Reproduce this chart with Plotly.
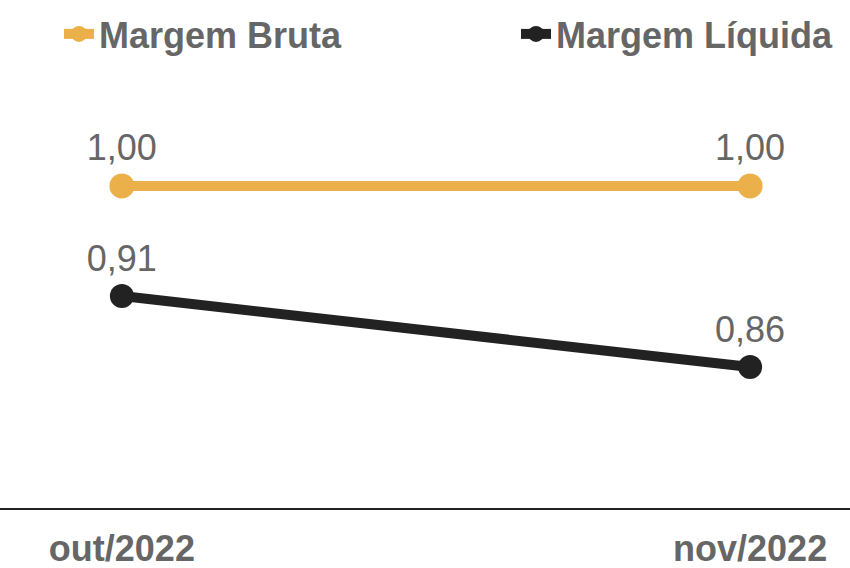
import plotly.graph_objects as go

categories = ["out/2022", "nov/2022"]
margem_bruta = [1.00, 1.00]
margem_liquida = [0.913, 0.857]

ORANGE = "#EBB04A"
BLACK = "#222222"
GRAY = "#666666"
FONT = "Liberation Sans, Arial, sans-serif"

fig = go.Figure()
fig.add_trace(go.Scatter(
    x=categories, y=margem_bruta, name="Margem Bruta",
    mode="lines+markers+text",
    line=dict(color=ORANGE, width=10),
    marker=dict(color=ORANGE, size=25),
    texttemplate="%{y:.2f}", textposition="top center",
    textfont=dict(size=36, color=GRAY, family=FONT),
    cliponaxis=False, legend="legend",
))
fig.add_trace(go.Scatter(
    x=categories, y=margem_liquida, name="Margem Líquida",
    mode="lines+markers+text",
    line=dict(color=BLACK, width=10),
    marker=dict(color=BLACK, size=24),
    texttemplate="%{y:.2f}", textposition="top center",
    textfont=dict(size=36, color=GRAY, family=FONT),
    cliponaxis=False, legend="legend2",
))

legend_common = dict(
    orientation="h", xanchor="left",
    yref="container", y=1 - 4/568, yanchor="top",
    font=dict(size=36, color=GRAY, family=FONT, weight="bold"),
    itemclick=False, itemdoubleclick=False,
    bgcolor="rgba(0,0,0,0)",
)

fig.update_layout(
    width=850, height=568,
    margin=dict(l=0, r=0, t=80, b=60, autoexpand=False),
    paper_bgcolor="white", plot_bgcolor="white",
    separators=",.",
    font=dict(family=FONT, color=GRAY, size=36),
    showlegend=True,
    legend=dict(x=59/850, **legend_common),
    legend2=dict(x=516/850, **legend_common),
    xaxis=dict(
        type="category", range=[-0.194, 1.159],
        showline=True, linecolor=BLACK, linewidth=2,
        showgrid=False, zeroline=False, ticks="",
        tickfont=dict(size=36, color=GRAY, family=FONT, weight="bold"),
        ticklabelstandoff=8, automargin=False,
        fixedrange=True,
    ),
    yaxis=dict(
        range=[0.7456, 1.0837], visible=False, showgrid=False,
        zeroline=False, fixedrange=True, automargin=False,
    ),
)

fig.write_html(
    "out.html",
    config={"displayModeBar": False},
    post_script="document.body.style.margin='0';document.body.style.overflow='hidden';",
)
